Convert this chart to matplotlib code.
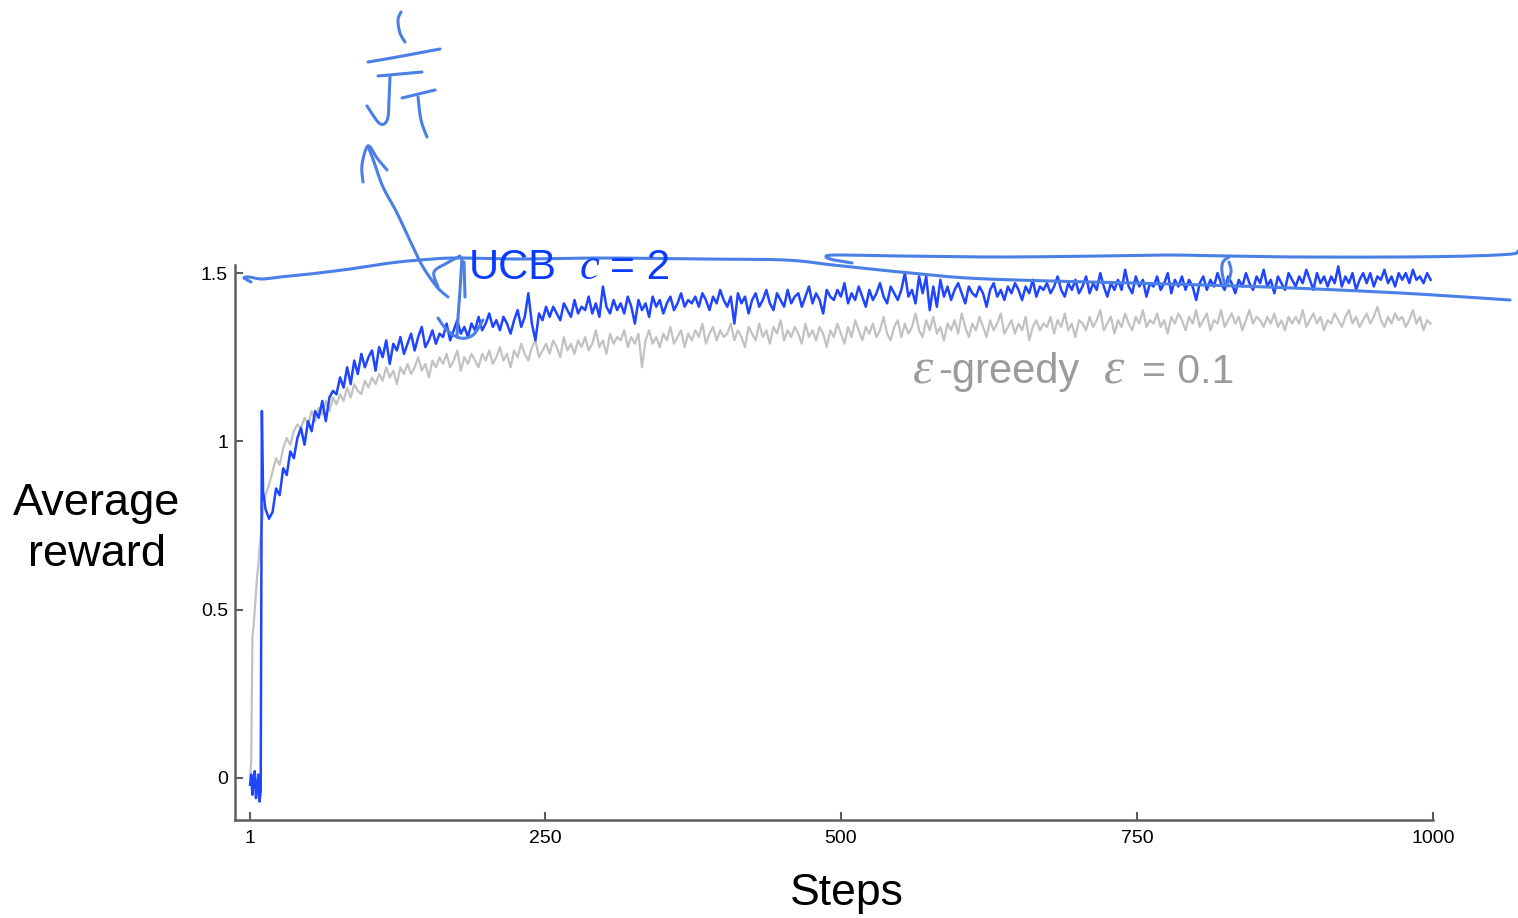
import matplotlib
matplotlib.use("Agg")
import numpy as np
import matplotlib.pyplot as plt

plt.rcParams['font.family'] = ['Liberation Sans', 'DejaVu Sans']

# ---- data ----
# steps: every step up to 12, then every third step
steps = list(range(1, 13)) + list(range(14, 1001, 3))

ucb_reward = [
    -0.02, 0.01, -0.05, -0.01, 0.02, -0.06, -0.03, 0.01, -0.07, -0.04, 1.09, 0.85,
    0.80, 0.77, 0.79, 0.86, 0.84, 0.92, 0.90, 0.97, 0.95, 1.01,
    1.04, 0.99, 1.06, 1.03, 1.09, 1.07, 1.12, 1.06, 1.13, 1.15,
    1.14, 1.19, 1.16, 1.22, 1.17, 1.24, 1.20, 1.26, 1.22, 1.25,
    1.27, 1.21, 1.28, 1.25, 1.30, 1.23, 1.29, 1.27, 1.31, 1.26,
    1.29, 1.32, 1.27, 1.31, 1.34, 1.28, 1.30, 1.33, 1.29, 1.32,
    1.31, 1.35, 1.30, 1.33, 1.36, 1.32, 1.34, 1.31, 1.35, 1.33,
    1.37, 1.33, 1.35, 1.38, 1.34, 1.36, 1.33, 1.37, 1.35, 1.32,
    1.36, 1.39, 1.34, 1.37, 1.44, 1.35, 1.30, 1.38, 1.36, 1.40,
    1.37, 1.40, 1.38, 1.36, 1.41, 1.39, 1.37, 1.42, 1.38, 1.40,
    1.39, 1.43, 1.38, 1.41, 1.37, 1.46, 1.40, 1.38, 1.42, 1.39,
    1.41, 1.38, 1.43, 1.40, 1.35, 1.42, 1.39, 1.41, 1.37, 1.43,
    1.40, 1.42, 1.38, 1.41, 1.43, 1.39, 1.41, 1.44, 1.40, 1.42,
    1.41, 1.43, 1.40, 1.44, 1.42, 1.39, 1.43, 1.41, 1.45, 1.42,
    1.40, 1.43, 1.35, 1.44, 1.41, 1.43, 1.38, 1.42, 1.44, 1.40,
    1.42, 1.45, 1.41, 1.39, 1.44, 1.42, 1.40, 1.45, 1.41, 1.43,
    1.44, 1.40, 1.43, 1.46, 1.41, 1.44, 1.42, 1.38, 1.45, 1.43,
    1.42, 1.45, 1.43, 1.47, 1.41, 1.44, 1.42, 1.46, 1.43, 1.40,
    1.45, 1.42, 1.44, 1.47, 1.43, 1.41, 1.46, 1.44, 1.42, 1.45,
    1.50, 1.43, 1.45, 1.41, 1.49, 1.44, 1.49, 1.39, 1.46, 1.40,
    1.48, 1.43, 1.46, 1.42, 1.45, 1.47, 1.44, 1.41, 1.46, 1.44,
    1.43, 1.46, 1.44, 1.40, 1.45, 1.47, 1.43, 1.45, 1.42, 1.46,
    1.44, 1.47, 1.45, 1.42, 1.46, 1.44, 1.48, 1.43, 1.46, 1.45,
    1.47, 1.44, 1.46, 1.49, 1.45, 1.43, 1.47, 1.45, 1.48, 1.44,
    1.46, 1.49, 1.44, 1.47, 1.45, 1.50, 1.46, 1.43, 1.47, 1.45,
    1.48, 1.45, 1.51, 1.46, 1.44, 1.49, 1.46, 1.48, 1.43, 1.47,
    1.46, 1.49, 1.45, 1.47, 1.50, 1.44, 1.48, 1.46, 1.49, 1.45,
    1.48, 1.46, 1.42, 1.47, 1.49, 1.45, 1.48, 1.46, 1.50, 1.47,
    1.45, 1.49, 1.47, 1.44, 1.48, 1.46, 1.50, 1.47, 1.45, 1.49,
    1.47, 1.51, 1.46, 1.48, 1.44, 1.49, 1.47, 1.45, 1.50, 1.48,
    1.46, 1.49, 1.47, 1.51, 1.48, 1.45, 1.50, 1.47, 1.49, 1.46,
    1.49, 1.47, 1.52, 1.46, 1.49, 1.47, 1.50, 1.45, 1.48, 1.50,
    1.47, 1.50, 1.46, 1.49, 1.48, 1.51, 1.47, 1.49, 1.46, 1.50,
    1.48, 1.50, 1.47, 1.51, 1.48, 1.49, 1.47, 1.50, 1.48,
]

greedy_reward = [
    0.00, 0.05, 0.42, 0.45, 0.50, 0.55, 0.60, 0.63, 0.68, 0.72, 0.76, 0.79,
    0.84, 0.87, 0.91, 0.95, 0.93, 0.98, 1.01, 0.99, 1.03, 1.05,
    1.04, 1.07, 1.05, 1.09, 1.06, 1.10, 1.08, 1.12, 1.09, 1.13,
    1.11, 1.14, 1.12, 1.16, 1.13, 1.17, 1.15, 1.14, 1.18, 1.16,
    1.19, 1.17, 1.20, 1.18, 1.22, 1.19, 1.21, 1.17, 1.22, 1.20,
    1.23, 1.20, 1.22, 1.25, 1.21, 1.23, 1.19, 1.24, 1.22, 1.25,
    1.23, 1.26, 1.22, 1.24, 1.27, 1.21, 1.25, 1.23, 1.26, 1.24,
    1.22, 1.26, 1.24, 1.27, 1.23, 1.25, 1.28, 1.24, 1.26, 1.22,
    1.27, 1.25, 1.29, 1.26, 1.24, 1.28, 1.30, 1.25, 1.27, 1.29,
    1.26, 1.30, 1.28, 1.25, 1.31, 1.27, 1.29, 1.26, 1.30, 1.28,
    1.31, 1.27, 1.29, 1.33, 1.28, 1.30, 1.26, 1.32, 1.29, 1.31,
    1.30, 1.33, 1.28, 1.31, 1.29, 1.32, 1.22, 1.30, 1.33, 1.29,
    1.31, 1.28, 1.32, 1.30, 1.34, 1.29, 1.31, 1.33, 1.28, 1.32,
    1.30, 1.33, 1.31, 1.35, 1.29, 1.32, 1.34, 1.30, 1.33, 1.31,
    1.32, 1.35, 1.30, 1.33, 1.31, 1.28, 1.34, 1.32, 1.30, 1.35,
    1.31, 1.33, 1.29, 1.34, 1.32, 1.36, 1.30, 1.33, 1.31, 1.34,
    1.32, 1.29, 1.35, 1.31, 1.33, 1.30, 1.34, 1.32, 1.28, 1.33,
    1.31, 1.35, 1.32, 1.29, 1.34, 1.31, 1.36, 1.33, 1.30, 1.34,
    1.32, 1.35, 1.31, 1.33, 1.37, 1.32, 1.30, 1.34, 1.36, 1.31,
    1.35, 1.32, 1.34, 1.38, 1.33, 1.31, 1.36, 1.33, 1.37, 1.32,
    1.34, 1.30, 1.35, 1.33, 1.36, 1.32, 1.38, 1.34, 1.31, 1.35,
    1.33, 1.37, 1.34, 1.31, 1.36, 1.33, 1.35, 1.38, 1.32, 1.34,
    1.36, 1.32, 1.35, 1.33, 1.37, 1.30, 1.34, 1.36, 1.33, 1.35,
    1.34, 1.37, 1.32, 1.36, 1.34, 1.38, 1.33, 1.35, 1.31, 1.36,
    1.35, 1.33, 1.37, 1.34, 1.36, 1.39, 1.33, 1.35, 1.37, 1.32,
    1.36, 1.34, 1.38, 1.35, 1.33, 1.37, 1.35, 1.39, 1.34, 1.36,
    1.35, 1.38, 1.34, 1.36, 1.32, 1.37, 1.35, 1.38, 1.36, 1.33,
    1.37, 1.35, 1.39, 1.34, 1.36, 1.38, 1.33, 1.36, 1.35, 1.39,
    1.34, 1.36, 1.38, 1.35, 1.37, 1.33, 1.36, 1.39, 1.35, 1.37,
    1.36, 1.34, 1.37, 1.35, 1.38, 1.34, 1.36, 1.33, 1.37, 1.35,
    1.37, 1.35, 1.39, 1.34, 1.36, 1.38, 1.35, 1.37, 1.33, 1.36,
    1.35, 1.38, 1.36, 1.34, 1.37, 1.39, 1.35, 1.37, 1.34, 1.36,
    1.38, 1.35, 1.37, 1.40, 1.36, 1.34, 1.37, 1.35, 1.38, 1.36,
    1.37, 1.34, 1.36, 1.39, 1.35, 1.37, 1.33, 1.36, 1.35,
]

x_ticks = [1, 250, 500, 750, 1000]
y_ticks = [0, 0.5, 1, 1.5]
y_ticklabels = ['0', '0.5', '1', '1.5']

# hand-drawn pen strokes on top of the figure (pixel coordinates)
pen_strokes = [
    # line from the 1.5 tick, drifting down at the right
    [(251, 282), (244, 278), (249, 277), (262, 279), (280, 277), (310, 274), (350, 269),
     (390, 263), (420, 260), (455, 258), (520, 259), (600, 258), (700, 259), (785, 260),
     (833, 265), (900, 272), (967, 278), (1050, 281), (1133, 283), (1267, 287),
     (1400, 293), (1510, 300)],
    # upper line with hairpin start
    [(852, 263), (834, 260), (826, 257), (836, 255), (900, 256), (1000, 257), (1100, 256),
     (1167, 255), (1227, 256), (1300, 257), (1400, 257), (1470, 256), (1512, 254), (1518, 251)],
    # little loop on the upper line
    [(1229, 257), (1223, 262), (1222, 272), (1226, 285), (1231, 272), (1229, 262)],
    # arrow shaft and head
    [(448, 297), (437, 287), (423, 267), (413, 247), (397, 213), (383, 187), (374, 162), (368, 146)],
    [(363, 182), (362, 165), (368, 146), (377, 158), (387, 170)],
    # marks next to the UCB label
    [(460, 256), (447, 263), (434, 272), (438, 287)],
    [(462, 258), (460, 290), (458, 318), (457, 337)],
    [(464, 262), (465, 297)],
    [(438, 318), (447, 330), (460, 338), (473, 335), (483, 320)],
    # 1 / sqrt(T)
    [(401, 12), (398, 20), (400, 33), (405, 42)],
    [(368, 62), (397, 57), (440, 49)],
    [(378, 76), (422, 72)],
    [(390, 77), (389, 100), (388, 117), (384, 124), (378, 122), (367, 106)],
    [(402, 98), (435, 90)],
    [(418, 97), (421, 120), (427, 137)],
]


def smooth_stroke(points, n=12):
    # Catmull-Rom through the pen points so strokes look hand drawn
    p = np.array(points, dtype=float)
    if len(p) < 3:
        return p[:, 0], p[:, 1]
    p = np.vstack([p[0], p, p[-1]])
    out = []
    for i in range(1, len(p) - 2):
        p0, p1, p2, p3 = p[i - 1], p[i], p[i + 1], p[i + 2]
        for t in np.linspace(0, 1, n, endpoint=False):
            out.append(0.5 * ((2 * p1) + (-p0 + p2) * t +
                              (2 * p0 - 5 * p1 + 4 * p2 - p3) * t ** 2 +
                              (-p0 + 3 * p1 - 3 * p2 + p3) * t ** 3))
    out.append(p[-2])
    out = np.array(out)
    return out[:, 0], out[:, 1]


W, H = 1518, 918
fig = plt.figure(figsize=(W / 100, H / 100), dpi=100)

ax = fig.add_axes([235 / W, 1 - 820 / H, (1433 - 235) / W, (820 - 265) / H])
ax.plot(steps, greedy_reward, color='#c2c2c2', lw=1.6, zorder=2)
ax.plot(steps, ucb_reward, color='#1f45ff', lw=1.8, zorder=3)

ax.set_xlim(-11.7, 1000)
ax.set_ylim(-0.125, 1.524)
ax.set_xticks(x_ticks)
ax.set_xticklabels([str(t) for t in x_ticks])
ax.set_yticks(y_ticks)
ax.set_yticklabels(y_ticklabels)
for side in ['top', 'right']:
    ax.spines[side].set_visible(False)
for side in ['left', 'bottom']:
    ax.spines[side].set_color('#5e5e5e')
    ax.spines[side].set_linewidth(1.8)
ax.tick_params(direction='in', length=6, width=1.5, color='#5e5e5e',
               labelsize=14, labelcolor='black')
ax.tick_params(axis='y', pad=5)
ax.tick_params(axis='x', pad=7)

fig.text(97 / W, 1 - 529 / H, 'Average\nreward', ha='center', va='center',
         fontsize=32.5, linespacing=1.32)
fig.text(847 / W, 1 - 893 / H, 'Steps', ha='center', va='center', fontsize=32)

# overlay in pixel coordinates for labels and pen strokes
ov = fig.add_axes([0, 0, 1, 1], zorder=5)
ov.set_xlim(0, W)
ov.set_ylim(H, 0)
ov.axis('off')
ov.patch.set_alpha(0)

ucb_col = '#0a3cff'
ov.text(469, 279, 'UCB', color=ucb_col, fontsize=30, va='baseline')
ov.text(580, 279, 'c', color=ucb_col, fontsize=32, va='baseline',
        family='Liberation Serif', style='italic')
ov.text(610, 279, '= 2', color=ucb_col, fontsize=30.5, va='baseline')

grey_col = '#9b9b9b'
ov.text(913, 383, 'ε', color=grey_col, fontsize=37, va='baseline',
        family='Liberation Serif', style='italic')
ov.text(938, 383, '-greedy', color=grey_col, fontsize=30, va='baseline')
ov.text(1104, 383, 'ε', color=grey_col, fontsize=37, va='baseline',
        family='Liberation Serif', style='italic')
ov.text(1142, 383, '= 0.1', color=grey_col, fontsize=29.5, va='baseline')

for stroke in pen_strokes:
    xs, ys = smooth_stroke(stroke)
    ov.plot(xs, ys, color='#4a7fe6', lw=2.2, solid_capstyle='round',
            solid_joinstyle='round')

fig.savefig('out.png', dpi=100)
